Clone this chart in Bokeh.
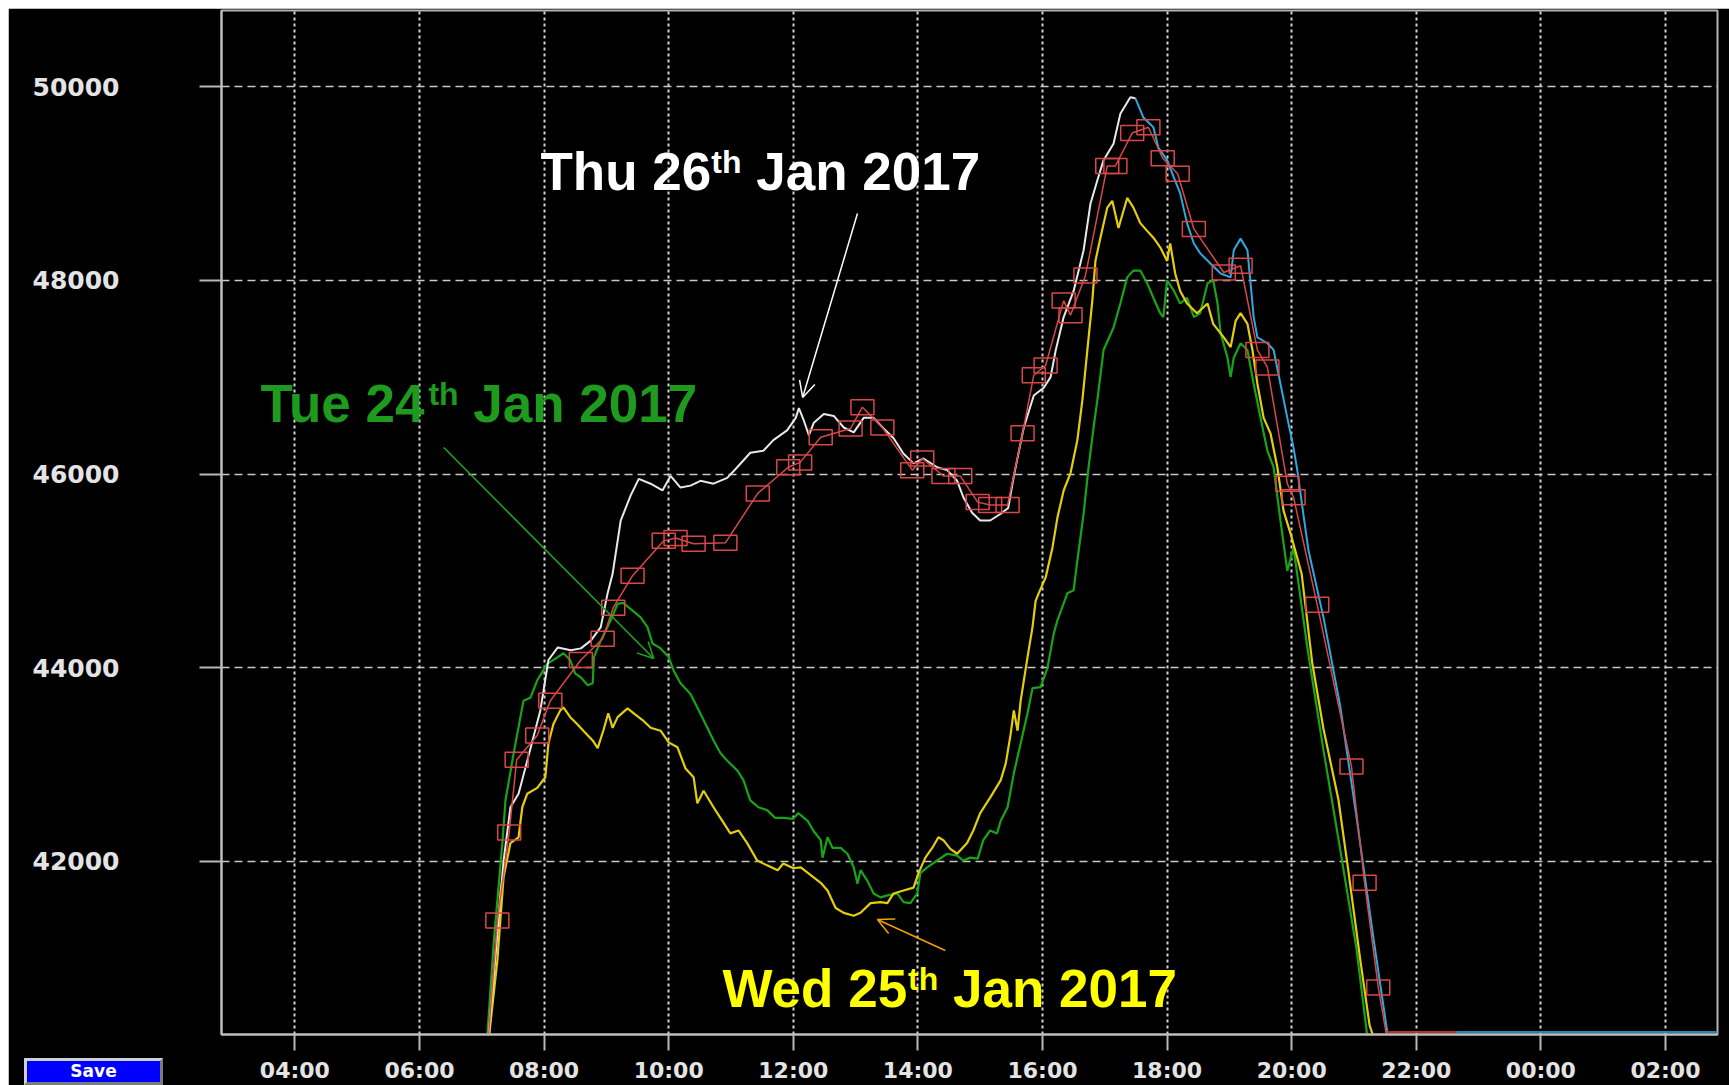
from bokeh.plotting import figure
from bokeh.models import Range1d, FixedTicker, Label, Arrow, OpenHead
from bokeh.embed import file_html
from bokeh.resources import INLINE

# ---------------- data (hours since midnight of the day shown; >24 = next day) ----------------
tick_hours = [4, 6, 8, 10, 12, 14, 16, 18, 20, 22, 24, 26]
tick_labels = ["04:00", "06:00", "08:00", "10:00", "12:00", "14:00",
               "16:00", "18:00", "20:00", "22:00", "00:00", "02:00"]
y_ticks = [42000, 44000, 46000, 48000, 50000]
y_tick_labels = ["42000", "44000", "46000", "48000", "50000"]
y_floor = 40214   # bottom of the scale
off_scale = 40240  # traces that sit on the bottom of the scale
button_text = "Save"

# Thu 26th Jan 2017 (white, actual)
thu_t = [7.11, 7.35, 7.46, 7.59, 7.73, 7.94, 8.07, 8.22, 8.43, 8.59, 8.75, 8.91, 9.02, 9.10,
         9.23, 9.39, 9.52, 9.71, 9.90, 10.03, 10.19, 10.35, 10.51, 10.72, 10.94, 11.10, 11.31,
         11.52, 11.68, 11.90, 12.04, 12.09, 12.17, 12.25, 12.33, 12.49, 12.65, 12.81, 12.97,
         13.13, 13.29, 13.45, 13.61, 13.77, 13.93, 14.09, 14.31, 14.47, 14.63, 14.73, 14.87,
         15.00, 15.16, 15.33, 15.45, 15.54, 15.70, 15.86, 16.02, 16.13, 16.21, 16.34, 16.50,
         16.66, 16.77, 16.88, 16.98, 17.14, 17.25, 17.41, 17.49]
thu_v = [40214, 42010, 42560, 42700, 43040, 43560, 44080, 44210, 44180, 44200, 44280, 44420,
         44770, 44970, 45520, 45780, 45950, 45900, 45830, 45980, 45860, 45880, 45930, 45900,
         45960, 46070, 46220, 46240, 46350, 46450, 46580, 46680, 46550, 46400, 46530, 46620,
         46600, 46480, 46430, 46580, 46580, 46470, 46370, 46210, 46110, 46160, 46070, 46040,
         45930, 45760, 45600, 45520, 45520, 45590, 45650, 45980, 46480, 46810, 46890, 47000,
         47270, 47620, 47890, 48310, 48790, 49030, 49240, 49410, 49720, 49890, 49880]

# continuation of the latest day (blue)
blue_t = [17.49, 17.62, 17.78, 17.86, 18.00, 18.11, 18.21, 18.32, 18.43, 18.53, 18.70, 18.86,
          19.02, 19.07, 19.18, 19.29, 19.34, 19.39, 19.45, 19.61, 19.71, 19.82, 19.93, 20.03,
          20.09, 20.18, 20.27, 20.51, 20.78, 21.04, 21.31, 21.54]
blue_v = [49880, 49680, 49580, 49370, 49240, 49060, 48900, 48590, 48380, 48280, 48170, 48070,
          48030, 48310, 48430, 48310, 47970, 47620, 47410, 47350, 47280, 46930, 46580, 46270,
          46040, 45620, 45210, 44520, 43600, 42460, 41220, 40214]
blue_tail_t = [21.54, 26.835]
blue_tail_v = [off_scale, off_scale]

# forecast (red, square markers)
fc_t = [7.11, 7.25, 7.44, 7.56, 7.89, 8.10, 8.59, 8.94, 9.11, 9.42, 9.92, 10.11, 10.40, 10.91,
        11.43, 11.92, 12.11, 12.44, 12.92, 13.11, 13.43, 13.91, 14.07, 14.41, 14.68, 14.96,
        15.16, 15.44, 15.68, 15.86, 16.05, 16.34, 16.45, 16.69, 17.04, 17.17, 17.44, 17.70,
        17.93, 18.17, 18.43, 18.91, 19.18, 19.45, 19.61, 19.93, 20.03, 20.41, 20.96, 21.17,
        21.39, 21.52]
fc_v = [40214, 41390, 42300, 43050, 43300, 43660, 44080, 44300, 44620, 44950, 45310, 45340,
        45280, 45290, 45800, 46070, 46120, 46380, 46470, 46690, 46480, 46040, 46160, 45980,
        45980, 45710, 45680, 45680, 46420, 47020, 47120, 47790, 47640, 48050, 49180, 49180,
        49520, 49580, 49260, 49100, 48530, 48080, 48150, 47280, 47100, 45900, 45760, 44650,
        42980, 41780, 40700, 40214]
fc_tail_t = [21.52, 22.64]
fc_tail_v = [off_scale, off_scale]

# Wed 25th Jan 2017 (yellow)
wed_t = [7.12, 7.25, 7.35, 7.46, 7.59, 7.65, 7.73, 7.89, 8.02, 8.07, 8.15, 8.26, 8.31, 8.42,
         8.53, 8.63, 8.78, 8.86, 8.95, 9.03, 9.10, 9.18, 9.34, 9.44, 9.58, 9.71, 9.87, 10.00,
         10.14, 10.27, 10.40, 10.46, 10.56, 10.72, 10.83, 10.99, 11.12, 11.26, 11.42, 11.58,
         11.75, 11.84, 12.00, 12.12, 12.28, 12.44, 12.55, 12.68, 12.81, 12.97, 13.08, 13.24,
         13.40, 13.51, 13.61, 13.77, 13.93, 14.01, 14.12, 14.23, 14.33, 14.41, 14.52, 14.63,
         14.79, 14.89, 15.00, 15.16, 15.33, 15.41, 15.49, 15.54, 15.60, 15.65, 15.76, 15.84,
         15.89, 15.94, 16.05, 16.16, 16.24, 16.34, 16.45, 16.56, 16.64, 16.72, 16.80, 16.85,
         16.93, 17.04, 17.12, 17.22, 17.36, 17.46, 17.57, 17.68, 17.78, 17.89, 18.00, 18.05,
         18.13, 18.21, 18.32, 18.48, 18.65, 18.74, 18.91, 19.02, 19.10, 19.18, 19.29, 19.37,
         19.45, 19.55, 19.66, 19.77, 19.87, 19.98, 20.16, 20.33, 20.51, 20.75, 20.91, 21.10,
         21.25, 21.30]
wed_v = [40214, 40980, 41840, 42190, 42250, 42560, 42700, 42760, 42870, 43220, 43420, 43560,
         43590, 43490, 43420, 43350, 43250, 43170, 43350, 43530, 43380, 43490, 43580, 43530,
         43460, 43380, 43350, 43230, 43180, 42960, 42870, 42600, 42730, 42560, 42450, 42290,
         42320, 42190, 42010, 41960, 41910, 41980, 41930, 41940, 41860, 41780, 41700, 41520,
         41470, 41440, 41470, 41570, 41580, 41570, 41670, 41700, 41730, 41880, 42040, 42140,
         42250, 42220, 42130, 42080, 42190, 42320, 42500, 42660, 42840, 43010, 43320, 43560,
         43350, 43660, 44110, 44420, 44690, 44770, 44930, 45240, 45550, 45830, 46010, 46350,
         46760, 47280, 47790, 48200, 48440, 48750, 48820, 48540, 48850, 48750, 48590, 48510,
         48440, 48340, 48200, 48380, 48070, 47890, 47760, 47660, 47760, 47550, 47410, 47310,
         47580, 47660, 47550, 47280, 46930, 46580, 46420, 46070, 45620, 45390, 44970, 44050,
         43370, 42640, 41900, 40990, 40310, 40214]

# Tue 24th Jan 2017 (green)
tue_t = [7.09, 7.19, 7.33, 7.38, 7.51, 7.62, 7.67, 7.78, 7.89, 8.05, 8.22, 8.31, 8.42, 8.50,
         8.59, 8.70, 8.78, 8.80, 8.91, 9.07, 9.18, 9.27, 9.42, 9.55, 9.66, 9.74, 9.87, 10.00,
         10.08, 10.19, 10.35, 10.46, 10.56, 10.72, 10.83, 10.94, 11.10, 11.20, 11.31, 11.44,
         11.58, 11.71, 11.84, 12.00, 12.08, 12.23, 12.32, 12.44, 12.47, 12.55, 12.63, 12.76,
         12.87, 12.97, 13.03, 13.08, 13.19, 13.29, 13.40, 13.51, 13.67, 13.77, 13.88, 13.99,
         14.04, 14.15, 14.31, 14.47, 14.63, 14.73, 14.84, 14.96, 15.05, 15.16, 15.27, 15.33,
         15.44, 15.54, 15.65, 15.76, 15.84, 15.97, 16.08, 16.18, 16.24, 16.40, 16.50, 16.56,
         16.66, 16.74, 16.82, 16.88, 16.98, 17.14, 17.25, 17.36, 17.46, 17.57, 17.68, 17.78,
         17.89, 17.94, 18.00, 18.11, 18.21, 18.32, 18.43, 18.53, 18.65, 18.74, 18.81, 18.86,
         18.97, 19.02, 19.07, 19.18, 19.29, 19.39, 19.50, 19.61, 19.71, 19.82, 19.93, 20.03,
         20.26, 20.51, 20.78, 21.04, 21.21]
tue_v = [40214, 41150, 42190, 42630, 43110, 43490, 43660, 43690, 43870, 44040, 44110, 44150,
         44080, 43940, 43900, 43820, 43840, 44110, 44280, 44490, 44660, 44670, 44590, 44520,
         44420, 44250, 44200, 44110, 43970, 43840, 43730, 43590, 43460, 43250, 43120, 43040,
         42940, 42840, 42630, 42560, 42530, 42450, 42450, 42440, 42500, 42420, 42320, 42220,
         42040, 42250, 42140, 42140, 42080, 41940, 41770, 41910, 41800, 41670, 41630, 41650,
         41670, 41580, 41570, 41670, 41880, 41940, 42010, 42080, 42060, 42010, 42040, 42030,
         42220, 42320, 42290, 42420, 42560, 42910, 43220, 43530, 43790, 43800, 44000, 44350,
         44490, 44770, 44800, 45110, 45590, 46070, 46480, 46760, 47280, 47510, 47760, 48030,
         48100, 48100, 47970, 47820, 47660, 47620, 48000, 47890, 47760, 47820, 47620, 47660,
         47970, 48000, 47760, 47450, 47200, 47000, 47200, 47350, 47280, 46930, 46580, 46240,
         46070, 45520, 45000, 45240, 44170, 43150, 42120, 41100, 40214]

# short orange trace at the start
orange_t = [7.12, 7.20, 7.30, 7.38]
orange_v = [40214, 40900, 41700, 42000]

# ---------------- figure ----------------
p = figure(width=1721, height=1077,
           x_range=Range1d(2.822, 26.835), y_range=Range1d(y_floor, 50785),
           output_backend="svg", toolbar_location=None,
           background_fill_color="black", border_fill_color="black",
           min_border_left=213, min_border_right=12, min_border_top=2, min_border_bottom=51)
p.margin = (8, 0, 0, 8)
p.outline_line_color = "#b4b4b4"
p.outline_line_width = 2

xa = p.xaxis[0]
xa.ticker = FixedTicker(ticks=tick_hours)
xa.major_label_overrides = {h: s for h, s in zip(tick_hours, tick_labels)}
ya = p.yaxis[0]
ya.ticker = FixedTicker(ticks=y_ticks)
ya.major_label_overrides = {v: s for v, s in zip(y_ticks, y_tick_labels)}

for ax in (xa, ya):
    ax.axis_line_color = "#c0c0c0"
    ax.axis_line_width = 2
    ax.major_tick_line_color = "#b8b8b8"
    ax.major_tick_line_width = 2
    ax.major_tick_in = 0
    ax.minor_tick_in = 0
    ax.minor_tick_out = 0
    ax.major_label_text_color = "#e4e4e4"
    ax.major_label_text_font = "DejaVu Sans"
    ax.major_label_text_font_style = "bold"
xa.major_tick_out = 16
xa.major_label_standoff = 7
xa.major_label_text_font_size = "22px"
ya.major_tick_out = 22
ya.major_label_standoff = 80
ya.major_label_text_font_size = "25px"

p.xgrid.grid_line_color = "#d4d4d4"
p.xgrid.grid_line_width = 2
p.xgrid.grid_line_dash = "3 3"
p.ygrid.grid_line_color = "#c8c8c8"
p.ygrid.grid_line_width = 1.5
p.ygrid.grid_line_dash = "8 5"

# ---------------- series ----------------
p.line(orange_t, orange_v, line_color="#f08a20", line_width=2)
p.line(blue_tail_t, blue_tail_v, line_color="#1f86b8", line_width=2)
p.line(blue_t, blue_v, line_color="#2fa8e0", line_width=2)
p.line(tue_t, tue_v, line_color="#18a418", line_width=2.2)
p.line(wed_t, wed_v, line_color="#e4ce0c", line_width=2.2)
p.line(thu_t, thu_v, line_color="#e8e8e8", line_width=2)
p.line(fc_tail_t, fc_tail_v, line_color="#b83030", line_width=2)
p.line(fc_t, fc_v, line_color="#d84848", line_width=1.5)
mk_t = [t for t, v in zip(fc_t, fc_v) if v > y_floor]
mk_v = [v for v in fc_v if v > y_floor]
p.rect(mk_t, mk_v, width=23, height=15, width_units="screen", height_units="screen",
       fill_color=None, line_color="#d84848", line_width=1.5)

# ---------------- annotations ----------------
def day_label(x, y, first, sup, rest, w_first, color):
    big = 53
    p.add_layout(Label(x=x, y=y, text=first, text_color=color, text_font="Liberation Sans",
                       text_font_style="bold", text_font_size=f"{big}px",
                       text_baseline="alphabetic"))
    p.add_layout(Label(x=x, y=y + 90, x_offset=w_first, text=sup, text_color=color,
                       text_font="Liberation Sans", text_font_style="bold",
                       text_font_size="32px", text_baseline="alphabetic"))
    p.add_layout(Label(x=x, y=y, x_offset=w_first + 30.2 + 14.7, text=rest, text_color=color,
                       text_font="Liberation Sans", text_font_style="bold",
                       text_font_size=f"{big}px", text_baseline="alphabetic"))

day_label(7.942, 49126, "Thu 26", "th", "Jan 2017", 170.8, "#ffffff")
day_label(3.448, 46731, "Tue 24", "th", "Jan 2017", 167.9, "#1e9a1e")
day_label(10.864, 40692, "Wed 25", "th", "Jan 2017", 185.6, "#ffff00")

p.add_layout(Arrow(x_start=13.03, y_start=48689, x_end=12.15, y_end=46790,
                   line_color="white", line_width=1.5,
                   end=OpenHead(size=16, line_color="white", line_width=1.5)))
p.add_layout(Arrow(x_start=6.39, y_start=46273, x_end=9.76, y_end=44095,
                   line_color="#1ea81e", line_width=1.5,
                   end=OpenHead(size=16, line_color="#1ea81e", line_width=1.5)))
p.add_layout(Arrow(x_start=14.44, y_start=41081, x_end=13.35, y_end=41401,
                   line_color="#f0a000", line_width=1.5,
                   end=OpenHead(size=16, line_color="#f0a000", line_width=1.5)))

html = file_html(p, INLINE)
# the "Save" button of the original screen, at the bottom-left corner of the page
button = ('<div style="position:absolute;left:24px;top:1058px;width:139px;height:27px;'
          'box-sizing:border-box;background:#0000ff;border:3px outset #d0d0d0;color:#ffffff;'
          "font:bold 17px 'DejaVu Sans';line-height:20px;text-align:center;overflow:hidden;\">"
          + button_text + '</div>')
html = html.replace("</body>", button + "\n</body>")
open("out.html", "w").write(html)
